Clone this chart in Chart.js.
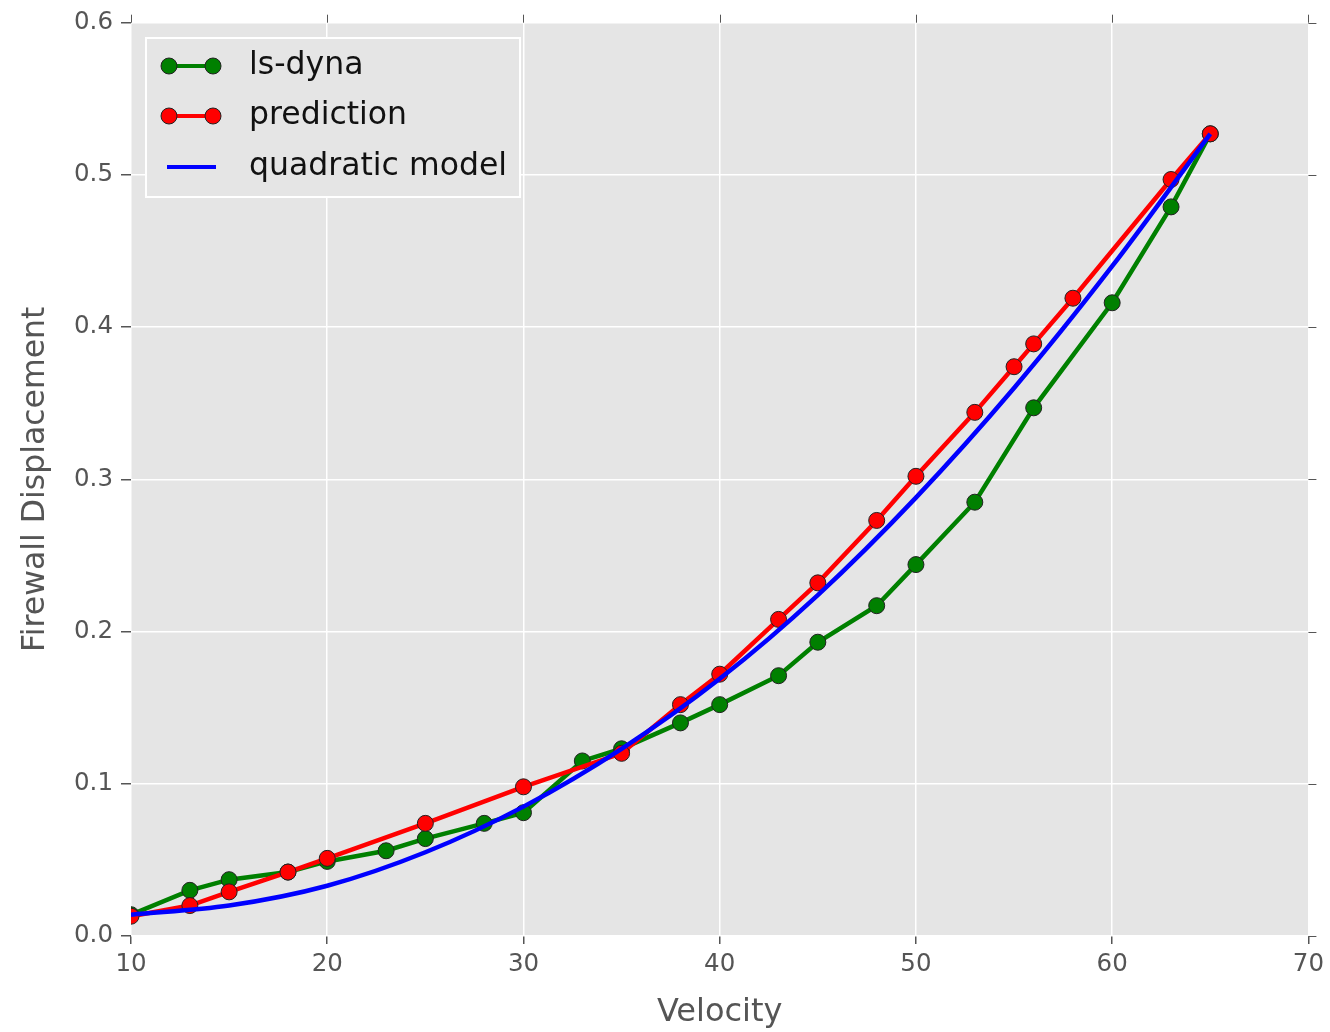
<!DOCTYPE html>
<html>
<head>
<meta charset="utf-8">
<script src="https://cdn.jsdelivr.net/npm/chart.js@4.4.1/dist/chart.umd.min.js"></script>
<style>
  html, body { margin: 0; padding: 0; background: #fff; }
  #wrap { width: 1330px; height: 1032px; }
</style>
</head>
<body>
<div id="wrap"><canvas id="firewallChart" width="1330" height="1032"></canvas></div>
<script>
// ls-dyna simulation results
const dynaVelocity = [10, 13, 15, 18, 20, 23, 25, 28, 30, 33, 35, 38, 40, 43, 45, 48, 50, 53, 56, 60, 63, 65];
const dynaDisp = [0.014, 0.030, 0.037, 0.042, 0.049, 0.056, 0.064, 0.074, 0.081, 0.115, 0.123, 0.140, 0.152, 0.171, 0.193, 0.217, 0.244, 0.285, 0.347, 0.416, 0.479, 0.527];

// prediction
const predVelocity = [10, 13, 15, 18, 20, 25, 30, 35, 38, 40, 43, 45, 48, 50, 53, 55, 56, 58, 63, 65];
const predDisp = [0.013, 0.020, 0.029, 0.042, 0.051, 0.074, 0.098, 0.120, 0.152, 0.172, 0.208, 0.232, 0.273, 0.302, 0.344, 0.374, 0.389, 0.419, 0.497, 0.527];

// quadratic model
const quadVelocity = [10, 15, 20, 25, 30, 35, 40, 45, 50, 55, 60, 65];
const quadDisp = [0.014, 0.020, 0.033, 0.055, 0.085, 0.123, 0.169, 0.224, 0.288, 0.360, 0.440, 0.527];

const xTicks = [10, 20, 30, 40, 50, 60, 70];
const yTicks = [0.0, 0.1, 0.2, 0.3, 0.4, 0.5, 0.6];

function toPoints(xs, ys) {
    return xs.map((x, i) => ({ x: x, y: ys[i] }));
}

const FONT = "'DejaVu Sans', sans-serif";

// grey panel behind the plot
const panelBg = {
    id: 'panelBg',
    beforeDraw(chart) {
        const { ctx, chartArea: a } = chart;
        ctx.save();
        ctx.fillStyle = '#e5e5e5';
        ctx.fillRect(a.left, a.top, a.right - a.left, a.bottom - a.top);
        ctx.restore();
    }
};

// tick marks on top and right edges
const mirrorTicks = {
    id: 'mirrorTicks',
    afterDraw(chart) {
        const { ctx, chartArea: a, scales } = chart;
        ctx.save();
        ctx.strokeStyle = '#555';
        ctx.lineWidth = 1;
        xTicks.forEach(v => {
            const px = Math.round(scales.x.getPixelForValue(v)) + 0.5;
            ctx.beginPath();
            ctx.moveTo(px, a.top);
            ctx.lineTo(px, a.top - 8);
            ctx.stroke();
        });
        yTicks.forEach(v => {
            const py = Math.round(scales.y.getPixelForValue(v)) + 0.5;
            ctx.beginPath();
            ctx.moveTo(a.right, py);
            ctx.lineTo(a.right + 8, py);
            ctx.stroke();
        });
        ctx.restore();
    }
};

// matplotlib-style legend in the upper left
const boxLegend = {
    id: 'boxLegend',
    afterDraw(chart) {
        const { ctx } = chart;
        const left = 146, top = 38, w = 374, h = 159;
        ctx.save();
        ctx.fillStyle = '#e5e5e5';
        ctx.fillRect(left, top, w, h);
        ctx.strokeStyle = '#ffffff';
        ctx.lineWidth = 2;
        ctx.strokeRect(left, top, w, h);
        const rows = [66, 116, 167];
        chart.data.datasets.forEach((ds, i) => {
            const y = rows[i];
            ctx.strokeStyle = ds.borderColor;
            ctx.lineWidth = 4;
            ctx.beginPath();
            ctx.moveTo(ds.pointRadius > 0 ? 169 : 167, y);
            ctx.lineTo(ds.pointRadius > 0 ? 213 : 216, y);
            ctx.stroke();
            if (ds.pointRadius > 0) {
                [169, 213].forEach(px => {
                    ctx.beginPath();
                    ctx.arc(px, y, 8, 0, Math.PI * 2);
                    ctx.fillStyle = ds.pointBackgroundColor;
                    ctx.fill();
                    ctx.lineWidth = 1;
                    ctx.strokeStyle = '#222';
                    ctx.stroke();
                });
            }
            ctx.fillStyle = '#111';
            ctx.font = '31.5px ' + FONT;
            ctx.textBaseline = 'middle';
            ctx.fillText(ds.label, 249, y);
        });
        ctx.restore();
    }
};

const ctx = document.getElementById('firewallChart').getContext('2d');
new Chart(ctx, {
    type: 'line',
    data: {
        datasets: [
            {
                label: 'ls-dyna',
                data: toPoints(dynaVelocity, dynaDisp),
                borderColor: '#008000',
                backgroundColor: '#008000',
                pointBackgroundColor: '#008000',
                pointBorderColor: '#222',
                pointBorderWidth: 1,
                pointRadius: 8,
                borderWidth: 4.5,
                tension: 0,
                order: 2
            },
            {
                label: 'prediction',
                data: toPoints(predVelocity, predDisp),
                borderColor: '#ff0000',
                backgroundColor: '#ff0000',
                pointBackgroundColor: '#ff0000',
                pointBorderColor: '#222',
                pointBorderWidth: 1,
                pointRadius: 8,
                borderWidth: 4.5,
                tension: 0,
                order: 1
            },
            {
                label: 'quadratic model',
                data: toPoints(quadVelocity, quadDisp),
                borderColor: '#0000ff',
                backgroundColor: '#0000ff',
                pointBackgroundColor: '#0000ff',
                pointRadius: 0,
                borderWidth: 4.5,
                cubicInterpolationMode: 'monotone',
                order: 0
            }
        ]
    },
    options: {
        responsive: false,
        animation: false,
        layout: { padding: { left: 0, right: 19, top: 22, bottom: 0 } },
        plugins: {
            legend: { display: false },
            tooltip: { enabled: false }
        },
        scales: {
            x: {
                type: 'linear',
                min: 10,
                max: 70,
                afterFit(scale) { scale.height = 96; },
                afterBuildTicks(scale) { scale.ticks = xTicks.map(v => ({ value: v })); },
                border: { display: false },
                grid: { color: '#ffffff', lineWidth: 1.5, tickColor: '#555', tickLength: 8, drawTicks: true },
                ticks: { font: { family: FONT, size: 24.5 }, color: '#555', padding: 6, maxRotation: 0 },
                title: { display: true, text: 'Velocity', font: { family: FONT, size: 32 }, color: '#555', padding: { top: 4, bottom: 0 } }
            },
            y: {
                type: 'linear',
                min: 0,
                max: 0.6,
                afterFit(scale) { scale.width = 131; },
                afterBuildTicks(scale) { scale.ticks = yTicks.map(v => ({ value: v })); },
                border: { display: false },
                grid: { color: '#ffffff', lineWidth: 1.5, tickColor: '#555', tickLength: 10, drawTicks: true },
                ticks: { font: { family: FONT, size: 24.5 }, color: '#555', padding: 8, callback: v => v.toFixed(1) },
                title: { display: true, text: 'Firewall Displacement', font: { family: FONT, size: 31.5 }, color: '#555', padding: { top: 17, bottom: 0 } }
            }
        }
    },
    plugins: [panelBg, mirrorTicks, boxLegend]
});
</script>
</body>
</html>
